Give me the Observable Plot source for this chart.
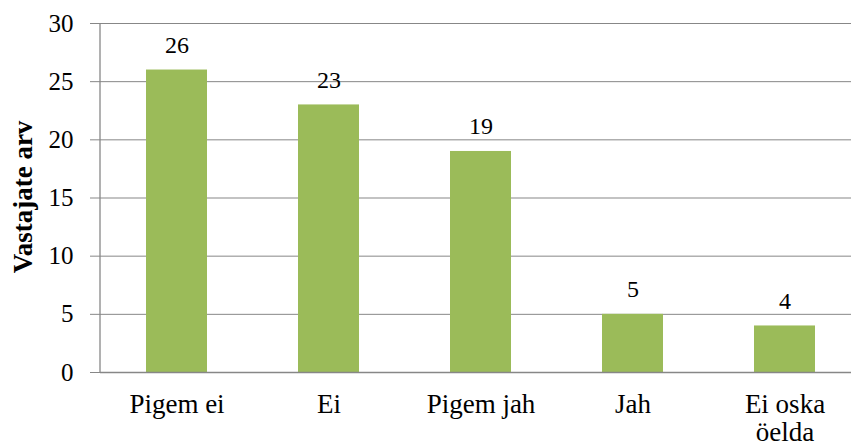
<!DOCTYPE html>
<html><head><meta charset="utf-8">
<script src="https://cdn.jsdelivr.net/npm/d3@7"></script>
<script src="https://cdn.jsdelivr.net/npm/@observablehq/plot@0.6"></script>
<style>body{margin:0;background:#fff} svg text{font-family:'Liberation Serif','Times New Roman',serif}</style>
</head><body><div id="chart"></div>
<script>
const categories = ["Pigem ei", "Ei", "Pigem jah", "Jah", "Ei oska\nöelda"];
const values = [26, 23, 19, 5, 4];
const yTicks = [0, 5, 10, 15, 20, 25, 30];
const yLabel = "Vastajate arv";

const data = categories.map((c, i) => ({cat: c, v: values[i]}));
const font = "'Liberation Serif', 'Times New Roman', serif";

const chart = Plot.plot({
  width: 851, height: 448,
  marginLeft: 100, marginRight: 0, marginTop: 23, marginBottom: 76,
  style: "font-family: 'Liberation Serif', 'Times New Roman', serif; font-size: 24px; color: #000; background: #fff;",
  x: {domain: categories, range: [100, 860], paddingInner: 0.6, paddingOuter: 0.3, label: null},
  y: {domain: [0, 30], ticks: yTicks, label: null},
  marks: [
    Plot.ruleY(yTicks, {stroke: "#878787", strokeWidth: 1}),
    Plot.barY(data, {x: "cat", y: "v", fill: "#9BBB59"}),
    Plot.ruleY([0], {stroke: "#878787", strokeWidth: 1.3}),
    Plot.text(data, {x: "cat", y: "v", text: d => String(d.v), dy: -25, fontSize: 24, fontFamily: font, fill: "#000"}),
    Plot.axisY({ticks: yTicks, tickSize: 10, tickPadding: 17, stroke: "#878787", fontSize: 25, fontFamily: font, label: null}),
    Plot.axisX({tickSize: 0, tickPadding: 20, fontSize: 27, fontFamily: font, lineHeight: 1.05, label: null, textAnchor: "middle"})
  ]
});
const svg = d3.select(chart);
svg.append("line").attr("x1", 100).attr("x2", 100).attr("y1", 23).attr("y2", 372)
  .attr("stroke", "#878787").attr("stroke-width", 1.3);
svg.append("text").attr("transform", "translate(23,197) rotate(-90)")
  .attr("text-anchor", "middle").attr("dominant-baseline", "central")
  .attr("font-family", font).attr("font-size", 27).attr("font-weight", "bold").text(yLabel);
document.getElementById("chart").appendChild(chart);
</script></body></html>
